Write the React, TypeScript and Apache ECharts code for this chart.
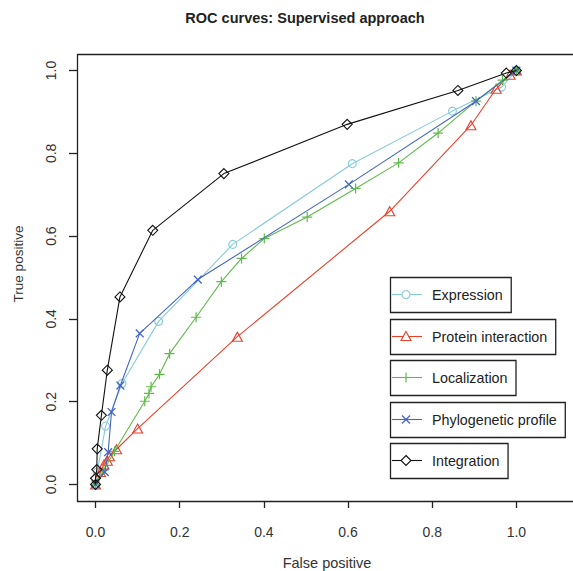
import React, { useEffect, useRef } from "react";
import * as echarts from "echarts";

// ---- data ----
const seriesNames = ["Expression", "Protein interaction", "Localization", "Phylogenetic profile", "Integration"];

const expressionFP = [0, 0.004, 0.024, 0.063, 0.15, 0.326, 0.61, 0.848, 0.965, 1];
const expressionTP = [0, 0.03, 0.141, 0.244, 0.394, 0.58, 0.775, 0.902, 0.96, 1];

const proteinFP = [0, 0.012, 0.02, 0.028, 0.033, 0.05, 0.1, 0.337, 0.699, 0.892, 0.952, 0.985, 1];
const proteinTP = [0, 0.03, 0.048, 0.057, 0.068, 0.085, 0.135, 0.357, 0.66, 0.868, 0.956, 0.99, 1];

const localizationFP = [0, 0.02, 0.045, 0.117, 0.127, 0.132, 0.152, 0.176, 0.239, 0.299, 0.347, 0.401, 0.503, 0.618, 0.72, 0.814, 0.904, 0.967, 1];
const localizationTP = [0, 0.035, 0.08, 0.201, 0.22, 0.236, 0.266, 0.316, 0.404, 0.49, 0.546, 0.594, 0.646, 0.715, 0.777, 0.849, 0.926, 0.977, 1];

const phyloFP = [0, 0.022, 0.03, 0.038, 0.059, 0.105, 0.243, 0.602, 0.904, 1];
const phyloTP = [0, 0.03, 0.078, 0.175, 0.239, 0.365, 0.495, 0.725, 0.926, 1];

const integrationFP = [0, 0, 0.003, 0.004, 0.014, 0.028, 0.058, 0.136, 0.305, 0.598, 0.861, 0.976, 1];
const integrationTP = [0, 0.015, 0.036, 0.086, 0.167, 0.276, 0.453, 0.614, 0.751, 0.87, 0.952, 0.994, 1];

const xTicks = [0, 0.2, 0.4, 0.6, 0.8, 1.0];
const yTicks = [0, 0.2, 0.4, 0.6, 0.8, 1.0];

const titleText = "ROC curves: Supervised approach";
const xTitle = "False positive";
const yTitle = "True positive";

// ---- styles ----
const colors = ["#86cbd9", "#e8412c", "#5fba4a", "#4466c4", "#111111"];
const FONT = '"Liberation Sans", Arial, sans-serif';
const CROSS = "path://M4.4,0H5.6V4.4H10V5.6H5.6V10H4.4V5.6H0V4.4H4.4Z";

const GRID = { left: 77, top: 54, width: 500, height: 447 };

const zip = (a: number[], b: number[]) => a.map((v, i) => [v, b[i]]);

const markerDefs = [
  { symbol: "circle", size: 8, rotate: 0, open: true },
  { symbol: "triangle", size: [10, 9], rotate: 0, open: true },
  { symbol: CROSS, size: 10, rotate: 0, open: false },
  { symbol: CROSS, size: 11, rotate: 45, open: false },
  { symbol: "diamond", size: [10, 10], rotate: 0, open: true },
];

function legendMarker(i: number, cx: number, cy: number) {
  const c = colors[i];
  const st = { stroke: c, fill: "none", lineWidth: 1.1 };
  if (i === 0) return [{ type: "circle", shape: { cx, cy, r: 4 }, style: { ...st, fill: "#fff" } }];
  if (i === 1)
    return [{ type: "polygon", shape: { points: [[cx, cy - 5], [cx + 5, cy + 4], [cx - 5, cy + 4]] }, style: { ...st, fill: "#fff" } }];
  if (i === 2)
    return [{ type: "line", shape: { x1: cx, y1: cy - 5, x2: cx, y2: cy + 5 }, style: { stroke: c, lineWidth: 1.2 } }];
  if (i === 3)
    return [
      { type: "line", shape: { x1: cx - 4, y1: cy - 4, x2: cx + 4, y2: cy + 4 }, style: { stroke: c, lineWidth: 1.2 } },
      { type: "line", shape: { x1: cx - 4, y1: cy + 4, x2: cx + 4, y2: cy - 4 }, style: { stroke: c, lineWidth: 1.2 } },
    ];
  return [{ type: "polygon", shape: { points: [[cx, cy - 5], [cx + 5, cy], [cx, cy + 5], [cx - 5, cy]] }, style: { ...st, fill: "#fff" } }];
}

export default function App() {
  const ref = useRef<HTMLDivElement>(null);

  useEffect(() => {
    if (!ref.current) return;
    const chart = echarts.init(ref.current, undefined, { renderer: "svg" });

    const legendFont = `14.3px ${FONT}`;
    const canvas = document.createElement("canvas");
    const ctx = canvas.getContext("2d")!;
    ctx.font = legendFont;

    const legendTops = [277, 319, 360, 402, 443];
    const legendGraphics: any[] = [];
    seriesNames.forEach((name, i) => {
      const top = legendTops[i];
      const h = 35;
      const tw = ctx.measureText(name).width;
      const cy = top + h / 2;
      legendGraphics.push({
        type: "rect",
        shape: { x: 390.5, y: top + 0.5, width: 432 - 390 + tw + 8, height: h },
        style: { fill: "#fff", stroke: "#222", lineWidth: 1.3 },
        z: 100,
      });
      legendGraphics.push({
        type: "line",
        shape: { x1: 392, y1: cy, x2: 422, y2: cy },
        style: { stroke: colors[i], lineWidth: 1.1 },
        z: 101,
      });
      legendMarker(i, 406, cy).forEach((m) => legendGraphics.push({ ...m, z: 102 }));
      legendGraphics.push({
        type: "text",
        x: 432,
        y: cy,
        style: { text: name, font: legendFont, fill: "#222", textVerticalAlign: "middle", textAlign: "left" },
        z: 102,
      });
    });

    const datasets = [
      zip(expressionFP, expressionTP),
      zip(proteinFP, proteinTP),
      zip(localizationFP, localizationTP),
      zip(phyloFP, phyloTP),
      zip(integrationFP, integrationTP),
    ];

    const series = datasets.map((data, i) => {
      const m = markerDefs[i];
      return {
        name: seriesNames[i],
        type: "line",
        data,
        showAllSymbol: true,
        symbol: m.symbol,
        symbolSize: m.size,
        symbolRotate: m.rotate,
        lineStyle: { color: colors[i], width: 1.1 },
        itemStyle: m.open
          ? { color: "rgba(255,255,255,0)", borderColor: colors[i], borderWidth: 1.1 }
          : { color: colors[i], borderWidth: 0 },
        emphasis: { disabled: true },
        z: 2 + i,
      };
    });

    const axisLabelBase = { fontFamily: FONT, fontSize: 14, color: "#333" };

    chart.setOption({
      animation: false,
      backgroundColor: "#fff",
      grid: {
        ...GRID,
        show: false,
        outerBoundsMode: "none",
        containLabel: false,
      },
      xAxis: {
        type: "value",
        min: -0.044,
        max: 1.144,
        axisLine: { show: false, onZero: false },
        splitLine: { show: false },
        axisTick: { show: true, customValues: xTicks, length: 7, lineStyle: { color: "#222", width: 1.3 } },
        axisLabel: {
          ...axisLabelBase,
          customValues: xTicks,
          margin: 24,
          formatter: (v: number) => v.toFixed(1),
        },
      },
      yAxis: {
        type: "value",
        min: -0.04,
        max: 1.04,
        axisLine: { show: false, onZero: false },
        splitLine: { show: false },
        axisTick: { show: true, customValues: yTicks, length: 8, lineStyle: { color: "#222", width: 1.3 } },
        axisLabel: {
          ...axisLabelBase,
          customValues: yTicks,
          rotate: 90,
          margin: 19,
          formatter: (v: number) => v.toFixed(1),
        },
      },
      graphic: [
        {
          type: "rect",
          shape: { x: GRID.left + 0.5, y: GRID.top + 0.5, width: GRID.width + 10, height: GRID.height },
          style: { fill: "none", stroke: "#222", lineWidth: 1.3 },
          z: 0,
          silent: true,
        },
        {
          type: "text",
          x: 305,
          y: 18,
          style: { text: titleText, font: `bold 14.5px ${FONT}`, fill: "#222", textAlign: "center", textVerticalAlign: "middle" },
        },
        {
          type: "text",
          x: 327,
          y: 563,
          style: { text: xTitle, font: `14.5px ${FONT}`, fill: "#333", textAlign: "center", textVerticalAlign: "middle" },
        },
        {
          type: "text",
          x: 18,
          y: 264,
          rotation: Math.PI / 2,
          style: { text: yTitle, font: `13.5px ${FONT}`, fill: "#333", textAlign: "center", textVerticalAlign: "middle" },
        },
        ...legendGraphics,
      ],
      series,
    });

    return () => chart.dispose();
  }, []);

  return <div ref={ref} style={{ position: "fixed", left: 0, top: 0, width: 573, height: 571 }} />;
}
